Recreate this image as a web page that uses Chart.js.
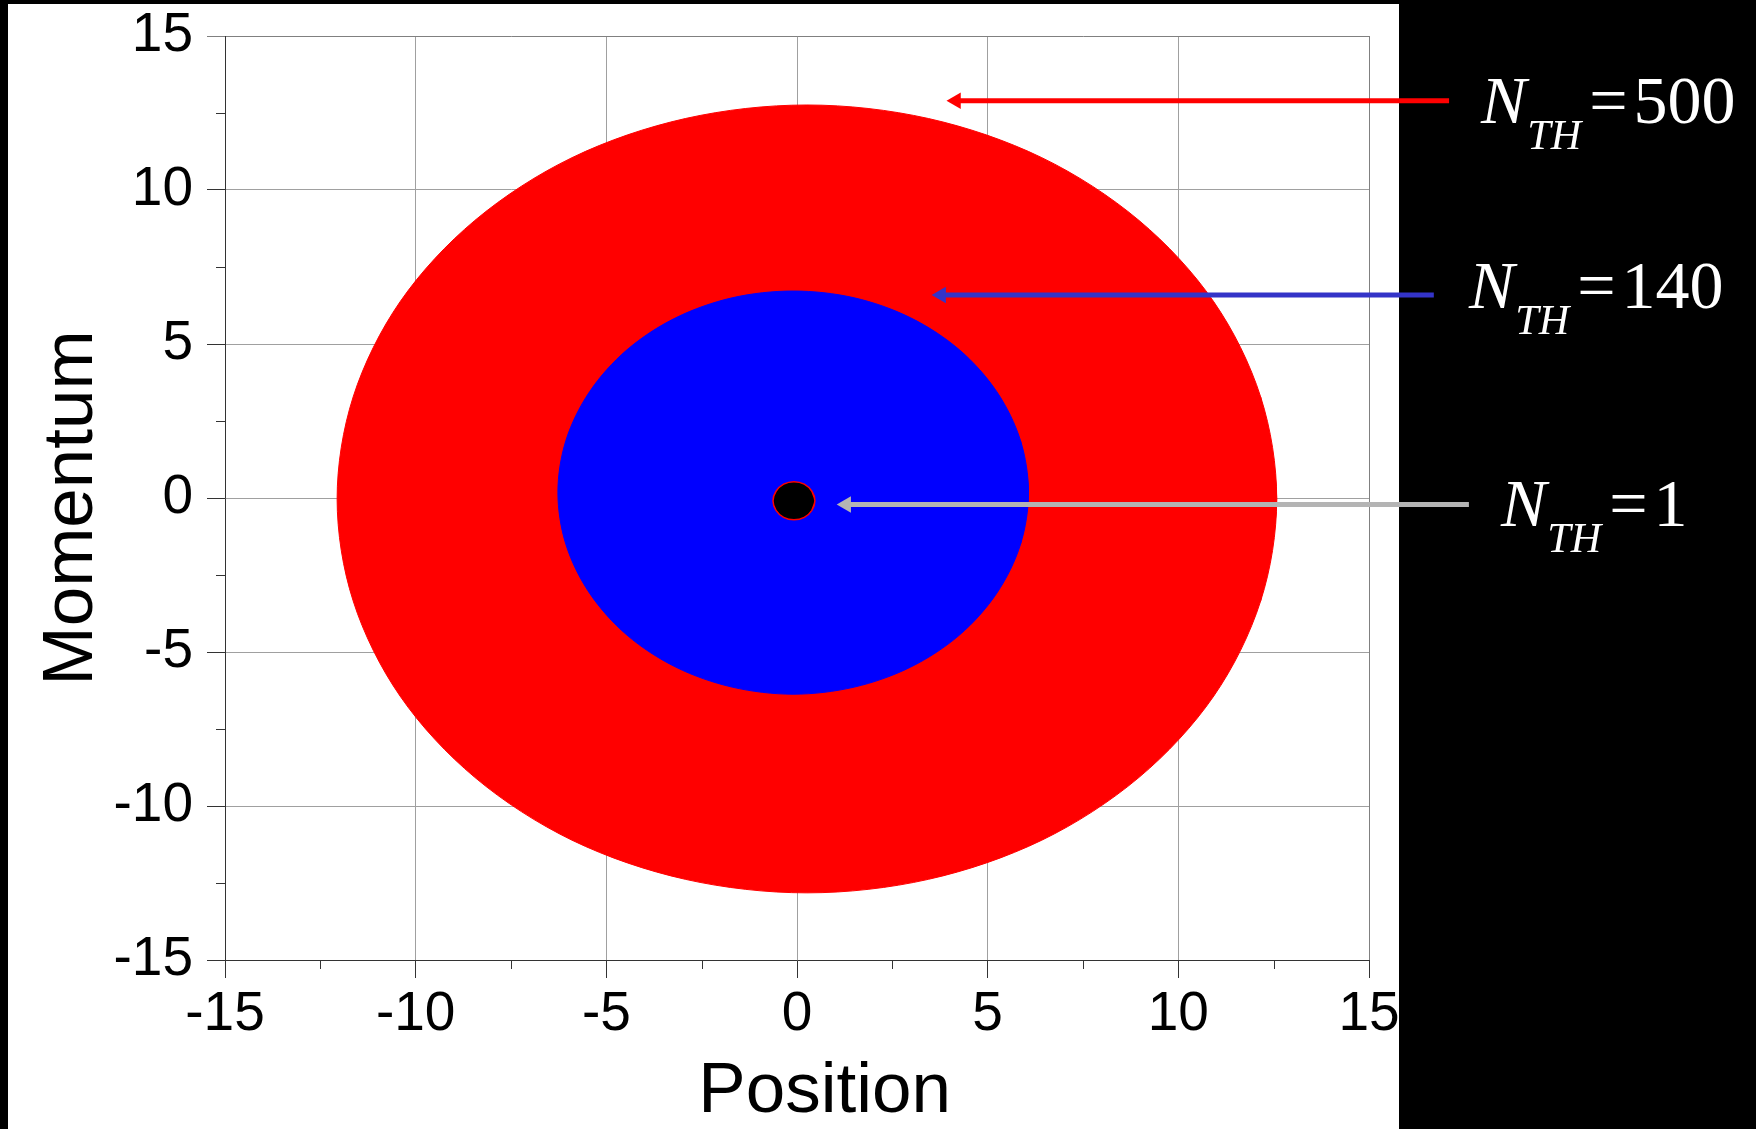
<!DOCTYPE html>
<html>
<head>
<meta charset="utf-8">
<title>Phase space</title>
<script src="https://cdn.jsdelivr.net/npm/chart.js@4.4.1/dist/chart.umd.min.js"></script>
<style>
  html, body { margin: 0; padding: 0; background: #000; width: 1756px; height: 1129px; overflow: hidden; }
  #paper { position: absolute; left: 8px; top: 4px; width: 1391px; height: 1125px; background: #fff; }
  #phase { position: absolute; left: 0; top: 0; }
  .lbl { position: absolute; color: #fff; font-family: 'Liberation Serif', 'Times New Roman', serif;
         font-size: 68px; line-height: 68px; white-space: nowrap; }
  .lbl i { font-style: italic; }
  .lbl .sub { font-size: 0.62em; font-style: italic; position: relative; top: 26px; margin-left: 1px; }
  .lbl .eq { margin: 0 6px 0 8px; }
</style>
</head>
<body>
<div id="paper"></div>
<canvas id="phase" width="1756" height="1129"></canvas>
<div class="lbl" style="left:1481px;top:66px"><i>N</i><span class="sub">TH</span><span class="eq">=</span>500</div>
<div class="lbl" style="left:1469px;top:251px"><i>N</i><span class="sub">TH</span><span class="eq">=</span>140</div>
<div class="lbl" style="left:1501px;top:469px"><i>N</i><span class="sub">TH</span><span class="eq">=</span>1</div>
<script>
// outline of the N_TH=500 region
const redX = [12.58, 12.16, 10.93, 8.97, 6.42, 3.45, 0.26, -2.93, -5.90, -8.45, -10.41, -11.64,
              -12.06, -11.64, -10.41, -8.45, -5.90, -2.93, 0.26, 3.45, 6.42, 8.97, 10.93, 12.16];
const redY = [-0.03, 3.28, 6.37, 9.01, 11.05, 12.32, 12.76, 12.32, 11.05, 9.01, 6.37, 3.28,
              -0.03, -3.34, -6.43, -9.07, -11.11, -12.38, -12.82, -12.38, -11.11, -9.07, -6.43, -3.34];

// outline of the N_TH=140 region
const blueX = [6.07, 5.86, 5.24, 4.26, 2.98, 1.50, -0.10, -1.70, -3.18, -4.46, -5.44, -6.06,
               -6.27, -6.06, -5.44, -4.46, -3.18, -1.70, -0.10, 1.50, 2.98, 4.26, 5.24, 5.86];
const blueY = [0.18, 1.87, 3.45, 4.81, 5.85, 6.50, 6.72, 6.50, 5.85, 4.81, 3.45, 1.87,
               0.18, -1.51, -3.09, -4.45, -5.49, -6.14, -6.37, -6.14, -5.49, -4.45, -3.09, -1.51];

// outline of the N_TH=1 region
const dotX = [0.47, 0.39, 0.19, -0.08, -0.35, -0.55, -0.63, -0.55, -0.35, -0.08, 0.19, 0.39];
const dotY = [-0.09, 0.22, 0.45, 0.53, 0.45, 0.22, -0.09, -0.40, -0.63, -0.71, -0.63, -0.40];

// arrows pointing at each region (tail on the right, head on the left)
const arrowTailX = [17.10, 16.70, 17.62];
const arrowHeadX = [4.17, 3.78, 1.29];
const arrowY = [12.90, 6.59, -0.21];

// axes
const axisMin = -15;
const axisMax = 15;
const majorStep = 5;
const minorTickValues = [-12.5, -7.5, -2.5, 2.5, 7.5, 12.5];

const FONT = "'Liberation Sans', Arial, sans-serif";

// close the outline: repeat the neighbours on both ends so the spline has no kink
function loopPoints(xs, ys) {
    const pts = xs.map((x, i) => ({ x: x, y: ys[i] }));
    return [pts[pts.length - 1], ...pts, pts[0], pts[1]];
}

function regionDataset(xs, ys, fillColor, edgeColor, edgeWidth, order) {
    return {
        data: loopPoints(xs, ys),
        showLine: true,
        fill: 'shape',
        backgroundColor: fillColor,
        borderColor: edgeColor,
        borderWidth: edgeWidth,
        tension: 0.33,
        pointRadius: 0,
        order: order
    };
}

const arrowColors = ['#ff0000', '#3434c8', '#b4b4b4'];

const arrowSets = arrowTailX.map((tail, i) => ({
    data: [{ x: tail, y: arrowY[i] }, { x: arrowHeadX[i], y: arrowY[i] }],
    showLine: true,
    fill: false,
    borderColor: arrowColors[i],
    borderWidth: 5,
    tension: 0,
    pointRadius: [0, 9.5],
    pointStyle: 'triangle',
    rotation: -90,
    pointBackgroundColor: arrowColors[i],
    pointBorderWidth: 0,
    clip: false,
    order: 0
}));

// small ticks between the labelled ones
const minorTicks = {
    id: 'minorTicks',
    beforeDatasetsDraw(chart) {
        const { ctx, chartArea, scales } = chart;
        ctx.save();
        ctx.strokeStyle = '#333';
        ctx.lineWidth = 1;
        minorTickValues.forEach(v => {
            const px = Math.round(scales.x.getPixelForValue(v)) + 0.5;
            ctx.beginPath();
            ctx.moveTo(px, chartArea.bottom);
            ctx.lineTo(px, chartArea.bottom + 9);
            ctx.stroke();
            const py = Math.round(scales.y.getPixelForValue(v)) + 0.5;
            ctx.beginPath();
            ctx.moveTo(chartArea.left - 9, py);
            ctx.lineTo(chartArea.left, py);
            ctx.stroke();
        });
        ctx.restore();
    }
};

const gridColor = c => (c.tick && c.tick.value === axisMax) ? '#808080' : '#a0a0a0';

new Chart(document.getElementById('phase'), {
    type: 'scatter',
    data: {
        datasets: [
            regionDataset(redX, redY, '#ff0000', '#ff0000', 1, 3),
            regionDataset(blueX, blueY, '#0000ff', '#0000ff', 1, 2),
            regionDataset(dotX, dotY, '#000000', '#ff0000', 1.5, 1),
            ...arrowSets
        ]
    },
    options: {
        responsive: false,
        animation: false,
        events: [],
        layout: { padding: { left: 0, top: 36, right: 387, bottom: 0 } },
        plugins: {
            legend: { display: false },
            tooltip: { enabled: false }
        },
        scales: {
            x: {
                type: 'linear',
                min: axisMin,
                max: axisMax,
                afterFit: s => { s.height = 169; },
                ticks: { stepSize: majorStep, color: '#000', padding: 4, maxRotation: 0, autoSkip: false,
                         font: { family: FONT, size: 55 } },
                grid: { color: gridColor, lineWidth: 1, drawTicks: true, tickLength: 18, tickColor: '#333' },
                border: { display: true, color: '#333', width: 1 },
                title: { display: true, text: '\u2002 Position', color: '#000',
                         font: { family: FONT, size: 71, lineHeight: 1 }, padding: { top: 0, bottom: 1 } }
            },
            y: {
                type: 'linear',
                min: axisMin,
                max: axisMax,
                afterFit: s => { s.width = 225; },
                ticks: { stepSize: majorStep, color: '#000', padding: 14, autoSkip: false,
                         font: { family: FONT, size: 55, lineHeight: 0.7 } },
                grid: { color: gridColor, lineWidth: 1, drawTicks: true, tickLength: 18,
                        tickColor: c => (c.tick && c.tick.value === axisMax) ? '#808080' : '#333' },
                border: { display: true, color: '#333', width: 1 },
                title: { display: true, text: 'Momentum ', color: '#000',
                         font: { family: FONT, size: 71, lineHeight: 1 }, padding: { top: 37, bottom: 0 } }
            }
        }
    },
    plugins: [minorTicks]
});
</script>
</body>
</html>
